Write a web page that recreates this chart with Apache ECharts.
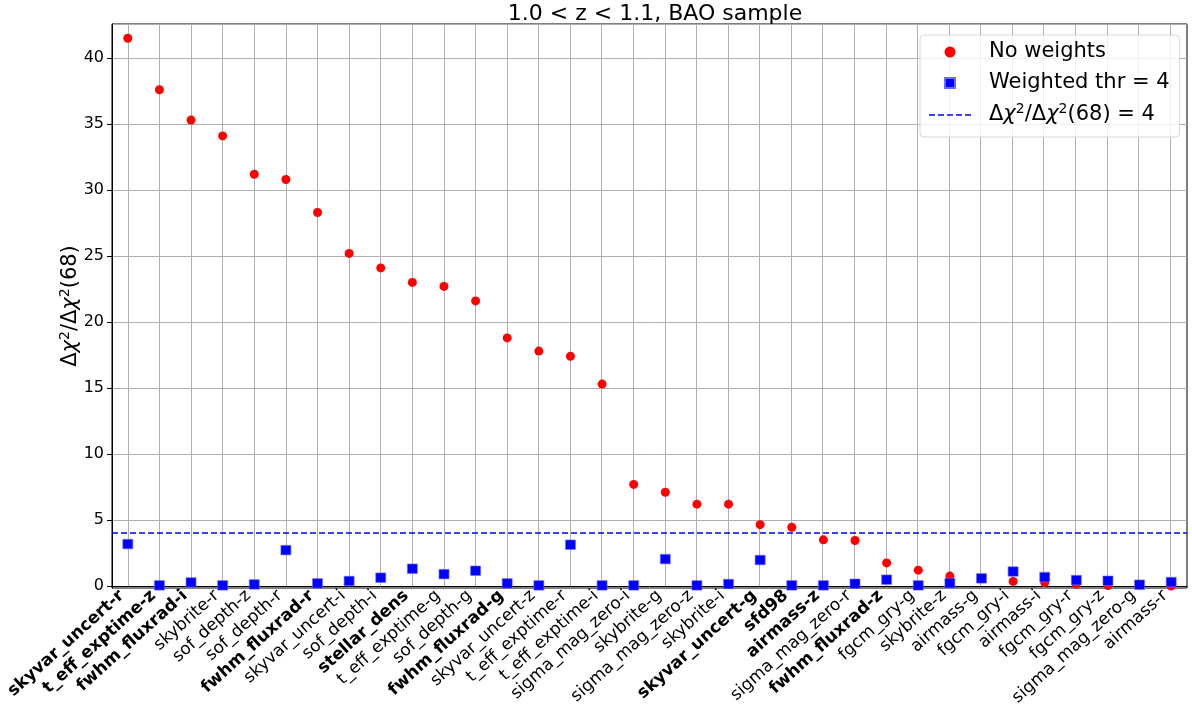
<!DOCTYPE html>
<html>
<head>
<meta charset="utf-8">
<script src="https://cdn.jsdelivr.net/npm/echarts@6.0.0/dist/echarts.min.js"></script>
<style>
  html, body { margin: 0; padding: 0; background: #fff; }
  #chart { width: 1192px; height: 710px; }
</style>
</head>
<body>
<div id="chart"></div>
<script>
// systematics, ordered by unweighted significance
var categories = [
  'skyvar_uncert-r', 't_eff_exptime-z', 'fwhm_fluxrad-i', 'skybrite-r', 'sof_depth-z',
  'sof_depth-r', 'fwhm_fluxrad-r', 'skyvar_uncert-i', 'sof_depth-i', 'stellar_dens',
  't_eff_exptime-g', 'sof_depth-g', 'fwhm_fluxrad-g', 'skyvar_uncert-z', 't_eff_exptime-r',
  't_eff_exptime-i', 'sigma_mag_zero-i', 'skybrite-g', 'sigma_mag_zero-z', 'skybrite-i',
  'skyvar_uncert-g', 'sfd98', 'airmass-z', 'sigma_mag_zero-r', 'fwhm_fluxrad-z',
  'fgcm_gry-g', 'skybrite-z', 'airmass-g', 'fgcm_gry-i', 'airmass-i',
  'fgcm_gry-r', 'fgcm_gry-z', 'sigma_mag_zero-g', 'airmass-r'
];
// labels drawn in bold
var boldLabels = [
  'skyvar_uncert-r', 't_eff_exptime-z', 'fwhm_fluxrad-i', 'fwhm_fluxrad-r', 'stellar_dens',
  'fwhm_fluxrad-g', 'skyvar_uncert-g', 'sfd98', 'airmass-z', 'fwhm_fluxrad-z'
];
var noWeights = [
  41.5, 37.6, 35.3, 34.1, 31.2, 30.8, 28.3, 25.2, 24.1, 23.0,
  22.7, 21.6, 18.8, 17.8, 17.4, 15.3, 7.7, 7.1, 6.2, 6.2,
  4.65, 4.45, 3.5, 3.45, 1.75, 1.2, 0.75, 0.55, 0.35, 0.27,
  0.15, 0.03, 0.05, 0.0
];
var weighted = [
  3.18, 0.05, 0.27, 0.05, 0.12, 2.72, 0.2, 0.38, 0.63, 1.31,
  0.9, 1.16, 0.2, 0.05, 3.13, 0.05, 0.05, 2.04, 0.05, 0.15,
  1.97, 0.05, 0.05, 0.17, 0.48, 0.05, 0.22, 0.58, 1.1, 0.68,
  0.45, 0.4, 0.1, 0.3
];
var threshold = 4;
var yTicks = [0, 5, 10, 15, 20, 25, 30, 35, 40];

var FONT = 'DejaVu Sans';
var RED = '#ff0000', BLUE = '#0000ff';
var LINE_NAME = 'dchi2';

// legend icons, drawn inside a 42x11 box
var squareIcon = 'path://M0,0M42,11M16,0.5H26V10.5H16Z';
var dashIcon = 'path://M0,0M42,11' +
  'M0,4.75H6V6.25H0Z M9,4.75H15V6.25H9Z M18,4.75H24V6.25H18Z M27,4.75H33V6.25H27Z M36,4.75H42V6.25H36Z';

var chart = echarts.init(document.getElementById('chart'));

var mathRich = {
  n: { fontFamily: FONT, fontSize: 21, color: '#000', lineHeight: 26 },
  i: { fontFamily: FONT, fontSize: 21, color: '#000', fontStyle: 'italic', lineHeight: 26 },
  s: { fontFamily: FONT, fontSize: 14, color: '#000', verticalAlign: 'top', lineHeight: 14 }
};

var option = {
  animation: false,
  title: {
    text: '1.0 < z < 1.1, BAO sample',
    left: 650, top: -2, textAlign: 'center',
    textStyle: { fontFamily: FONT, fontSize: 22, fontWeight: 'normal', color: '#000' }
  },
  legend: {
    orient: 'vertical', left: 920, top: 35,
    padding: [5, 10, 9, 8], itemGap: 7,
    itemWidth: 42, itemHeight: 11,
    backgroundColor: 'rgba(255,255,255,0.8)',
    borderColor: '#d6d6d6', borderWidth: 1, borderRadius: 4,
    textStyle: { fontFamily: FONT, fontSize: 21, lineHeight: 24, color: '#000', padding: [0, 0, 0, 13], rich: mathRich },
    formatter: function (name) {
      if (name === LINE_NAME) return '{n|Δ}{i|χ}{s|2}{n|/Δ}{i|χ}{s|2}{n|(68) = 4}';
      return name;
    },
    data: [
      { name: 'No weights', icon: 'circle' },
      { name: 'Weighted thr = 4', icon: squareIcon },
      { name: LINE_NAME, icon: dashIcon }
    ]
  },
  grid: [
    // data grid, with frame
    { left: 112, top: 24, width: 1075, height: 564, outerBoundsMode: 'none', containLabel: false,
      show: true, borderColor: '#000', borderWidth: 1, backgroundColor: 'transparent' },
    // horizontal grid lines and y tick labels
    { left: 112, top: 24, width: 1075, height: 562, outerBoundsMode: 'none', containLabel: false },
    // vertical grid lines at the category centres
    { left: 128, top: 24, width: 1042, height: 564, outerBoundsMode: 'none', containLabel: false }
  ],
  xAxis: [
    {
      gridIndex: 0, type: 'category', data: categories, boundaryGap: true,
      axisLine: { lineStyle: { color: '#000', width: 1 } },
      axisTick: { alignWithLabel: true, length: 5, lineStyle: { color: '#000' } },
      splitLine: { show: false },
      axisLabel: {
        interval: 0, rotate: 42, margin: 0, padding: [0, 8, 0, 0],
        fontFamily: FONT, fontSize: 17, color: '#000',
        formatter: function (v) { return boldLabels.indexOf(v) >= 0 ? '{b|' + v + '}' : v; },
        rich: { b: { fontFamily: FONT, fontSize: 17, fontWeight: 'bold', color: '#000' } }
      }
    },
    { gridIndex: 1, type: 'value', show: false, splitLine: { show: false } },
    {
      gridIndex: 2, type: 'category', data: categories, boundaryGap: false,
      axisLine: { show: false }, axisTick: { show: false }, axisLabel: { show: false },
      splitLine: { show: true, interval: 0, lineStyle: { color: '#b0b0b0', width: 1 } }
    }
  ],
  yAxis: [
    {
      gridIndex: 0, type: 'value', min: -0.15, max: 42.58,
      axisLine: { show: true, lineStyle: { color: '#000' } },
      axisTick: { show: false }, axisLabel: { show: false }, splitLine: { show: false },
      name: '{n|Δ}{i|χ}{s|2}{n|/Δ}{i|χ}{s|2}{n|(68)}',
      nameLocation: 'middle', nameGap: 29, nameRotate: 90,
      nameTextStyle: {
        rich: {
          n: { fontFamily: FONT, fontSize: 21, color: '#000', lineHeight: 25 },
          i: { fontFamily: FONT, fontSize: 21, color: '#000', fontStyle: 'italic', lineHeight: 25 },
          s: { fontFamily: FONT, fontSize: 14, color: '#000', verticalAlign: 'top', lineHeight: 14 }
        }
      }
    },
    {
      gridIndex: 1, type: 'value', min: yTicks[0], max: 42.58, interval: 5,
      axisLine: { show: false },
      axisTick: { show: true, length: 5, lineStyle: { color: '#000' } },
      axisLabel: {
        fontFamily: FONT, fontSize: 16, color: '#000', margin: 8, showMaxLabel: false,
        formatter: function (v) { return yTicks.indexOf(v) >= 0 ? String(v) : ''; }
      },
      splitLine: { show: true, lineStyle: { color: '#b0b0b0', width: 1 } }
    },
    { gridIndex: 2, type: 'value', show: false, splitLine: { show: false } }
  ],
  series: [
    {
      name: 'No weights', type: 'scatter', xAxisIndex: 0, yAxisIndex: 0,
      data: noWeights, symbol: 'circle', symbolSize: 9, clip: false, z: 3,
      itemStyle: { color: RED, opacity: 1 }
    },
    {
      name: 'Weighted thr = 4', type: 'scatter', xAxisIndex: 0, yAxisIndex: 0,
      data: weighted, symbol: 'rect', symbolSize: [10, 9.5], clip: false, z: 4,
      itemStyle: { color: BLUE, opacity: 1, borderColor: '#6a6aff', borderWidth: 0.6 }
    },
    {
      name: LINE_NAME, type: 'line', xAxisIndex: 0, yAxisIndex: 0,
      data: [], symbol: 'none',
      lineStyle: { color: BLUE, width: 1.5, type: [6, 3] },
      itemStyle: { color: BLUE },
      markLine: {
        silent: true, symbol: 'none', label: { show: false },
        lineStyle: { color: BLUE, width: 1.5, type: [6, 3] },
        data: [{ yAxis: threshold }]
      }
    }
  ]
};

chart.setOption(option);
</script>
</body>
</html>
